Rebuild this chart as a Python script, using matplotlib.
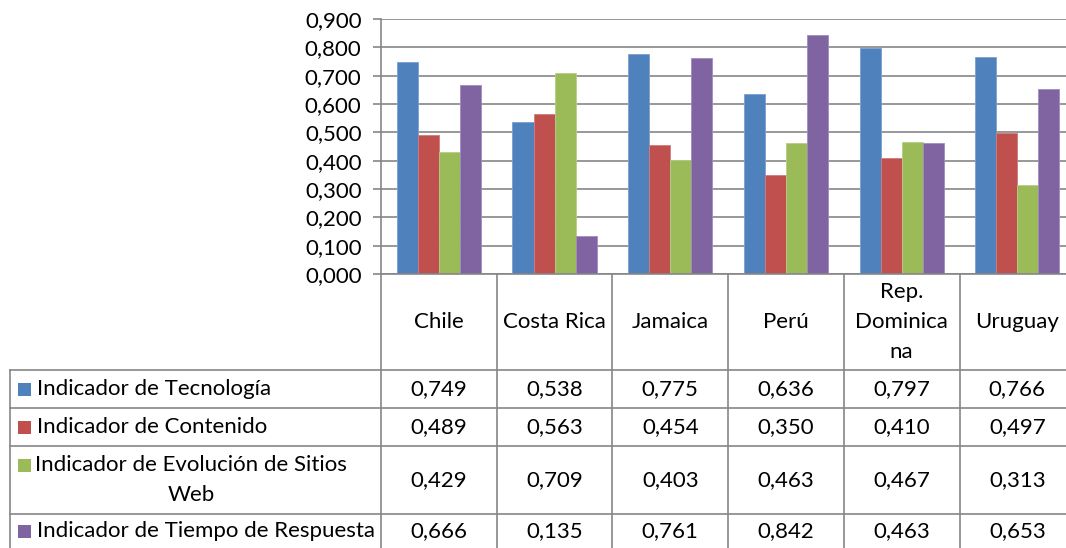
import matplotlib
matplotlib.use("Agg")
import matplotlib.pyplot as plt
from matplotlib.patches import Rectangle

# Data
countries = ["Chile", "Costa Rica", "Jamaica", "Perú", "Rep.\nDominica\nna", "Uruguay"]
series_names = [
    "Indicador de Tecnología",
    "Indicador de Contenido",
    "Indicador de Evolución de Sitios\nWeb",
    "Indicador de Tiempo de Respuesta",
]
tecnologia = [0.749, 0.538, 0.775, 0.636, 0.797, 0.766]
contenido = [0.489, 0.563, 0.454, 0.350, 0.410, 0.497]
evolucion = [0.429, 0.709, 0.403, 0.463, 0.467, 0.313]
tiempo = [0.666, 0.135, 0.761, 0.842, 0.463, 0.653]
series_values = [tecnologia, contenido, evolucion, tiempo]
y_ticks = [0.0, 0.1, 0.2, 0.3, 0.4, 0.5, 0.6, 0.7, 0.8, 0.9]

colors = ["#4F81BD", "#C0504D", "#9BBB59", "#8064A2"]
edge_colors = ["#7A9FD0", "#D27B79", "#B5CE86", "#A08BC0"]
grid_c = "#868686"
font = "Lato"
fs = 16

W, H = 1066, 548
fig = plt.figure(figsize=(W / 100, H / 100), dpi=100)

# chart area in pixels
px_left, px_top, px_bottom = 381, 19, 274
col_w = 115.7
n = len(countries)
px_right = px_left + n * col_w

ax = fig.add_axes([px_left / W, 1 - px_bottom / H,
                   (px_right - px_left) / W, (px_bottom - px_top) / H])
ax.set_xlim(-0.5, n - 0.5)
ax.set_ylim(0, 0.9)

bar_w = 1 / 5.5
for k, vals in enumerate(series_values):
    xs = [i - 2 * bar_w + (k + 0.5) * bar_w for i in range(n)]
    ax.bar(xs, vals, width=bar_w, color=colors[k], edgecolor=edge_colors[k],
           linewidth=0.6, zorder=3)

ax.set_yticks(y_ticks)
ax.set_yticklabels([f"{v:.3f}".replace(".", ",") for v in y_ticks],
                   fontsize=fs, family=font)
ax.yaxis.grid(True, color=grid_c, linewidth=1.2, zorder=0)
ax.set_xticks([])
ax.tick_params(axis="y", length=6, width=1.2, color=grid_c, pad=8)
for s in ["top", "right"]:
    ax.spines[s].set_visible(False)
for s in ["left", "bottom"]:
    ax.spines[s].set_color(grid_c)
    ax.spines[s].set_linewidth(1.2)
ax.spines["bottom"].set_zorder(4)

# data table drawn in pixel coordinates
tab = fig.add_axes([0, 0, 1, 1])
tab.set_xlim(0, W)
tab.set_ylim(H, 0)
tab.axis("off")
tab.patch.set_alpha(0)

row_edges = [370, 408, 446, 514, 584]
tbl_left = 10
lw = 1.2
for y in row_edges[:-1]:
    tab.plot([tbl_left, px_right], [y, y], color=grid_c, lw=lw)
tab.plot([tbl_left, tbl_left], [row_edges[0], H + 5], color=grid_c, lw=lw)
for i in range(n + 1):
    x = px_left + i * col_w
    tab.plot([x, x], [px_bottom, H + 5], color=grid_c, lw=lw)

# header: category names
for i, name in enumerate(countries):
    cx = px_left + (i + 0.5) * col_w
    tab.text(cx, 322, name, ha="center", va="center", fontsize=fs,
             family=font, linespacing=1.6)

# legend keys, labels and values
row_centers = [389, 427, 480, 531]
for k, (label, vals) in enumerate(zip(series_names, series_values)):
    cy = row_centers[k]
    first_line_y = cy if "\n" not in label else 465
    tab.add_patch(Rectangle((18, first_line_y - 6.5), 13, 13,
                            color=colors[k], lw=0))
    if "\n" in label:
        tab.text(191, cy, label, ha="center", va="center", fontsize=fs,
                 family=font, linespacing=1.6)
    else:
        tab.text(37, cy, label, ha="left", va="center", fontsize=fs,
                 family=font)
    for i, v in enumerate(vals):
        cx = px_left + (i + 0.5) * col_w
        tab.text(cx, cy, f"{v:.3f}".replace(".", ","), ha="center",
                 va="center", fontsize=fs, family=font)

fig.savefig("out.png", dpi=100)
